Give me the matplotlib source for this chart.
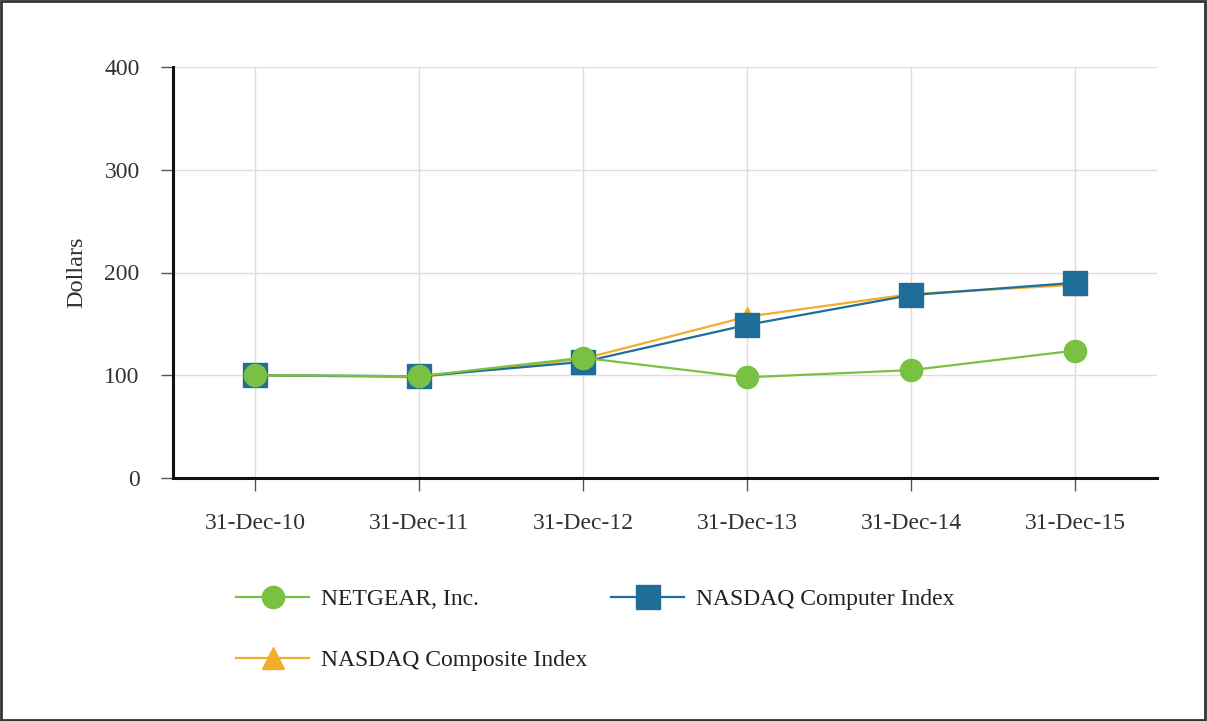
import numpy as np
import matplotlib.pyplot as plt
from matplotlib.lines import Line2D
from matplotlib.patches import Rectangle

# Cumulative total return values
dates = ['31-Dec-10', '31-Dec-11', '31-Dec-12', '31-Dec-13', '31-Dec-14', '31-Dec-15']
netgear = [100, 99, 117, 98, 105, 124]
nasdaq_computer = [100, 99, 113, 149, 178, 190]
nasdaq_composite = [100, 98, 116, 157, 179, 188]

plt.rcParams['font.family'] = ['Liberation Serif', 'DejaVu Serif']

GREEN = '#7ac143'
BLUE = '#1f6e99'
ORANGE = '#f4ad29'

fig = plt.figure(figsize=(12.07, 7.21), dpi=100)
ax = fig.add_axes([173/1207, 1-478/721, (1157-173)/1207, (478-67)/721])

x = np.arange(len(dates))
ax.plot(x, nasdaq_composite, color=ORANGE, lw=1.6, marker='^', ms=14, zorder=3)
ax.plot(x, nasdaq_computer, color=BLUE, lw=1.6, marker='s', ms=17, zorder=4)
ax.plot(x, netgear, color=GREEN, lw=1.6, marker='o', ms=16, zorder=5)

ax.set_xlim(-0.5, len(dates)-0.5)
ax.set_ylim(0, 400)
ax.set_yticks([0, 100, 200, 300, 400])
ax.set_xticks(x)
ax.set_xticklabels(dates)
ax.grid(True, color='#dddddd', lw=1)
ax.set_axisbelow(True)

for s in ['top', 'right']:
    ax.spines[s].set_visible(False)
for s in ['left', 'bottom']:
    ax.spines[s].set_linewidth(2.2)
    ax.spines[s].set_color('#111111')

ax.tick_params(axis='both', labelsize=17, colors='#555555', labelcolor='#333333',
               length=9, width=1)
ax.tick_params(axis='x', pad=16)
ax.tick_params(axis='y', pad=15)
ax.set_ylabel('Dollars', fontsize=17.5, color='#333333', labelpad=12)

# legend, two rows below the plot (column-major order for ncol=2)
h_net = Line2D([], [], color=GREEN, lw=1.6, marker='o', ms=16)
h_comp = Line2D([], [], color=BLUE, lw=1.6, marker='s', ms=17)
h_cmps = Line2D([], [], color=ORANGE, lw=1.6, marker='^', ms=16)
handles = [h_net, h_cmps, h_comp]
labels = ['NETGEAR, Inc.', 'NASDAQ Composite Index', 'NASDAQ Computer Index']
leg = fig.legend(handles, labels, loc='upper left', bbox_to_anchor=(215/1207, 1-567/721),
                 ncol=2, frameon=False, fontsize=17, handlelength=3.1,
                 columnspacing=1.0, labelspacing=1.7, handletextpad=0.5)
for t in leg.get_texts():
    t.set_color('#222222')

# outer frame of the image
fig.patches.append(Rectangle((0.001, 0.001), 0.997, 0.997, transform=fig.transFigure,
                             fill=False, edgecolor='#333333', lw=2))

fig.savefig('out.png', dpi=100)
